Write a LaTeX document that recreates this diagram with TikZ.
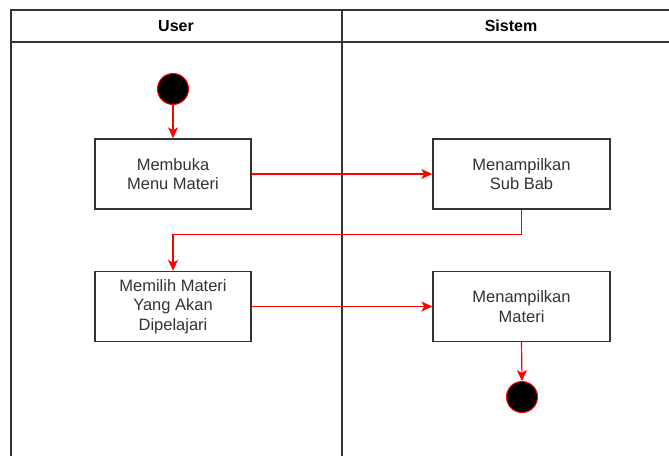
\documentclass[tikz,border=0pt]{standalone}
\usepackage{fontspec}
\setmainfont{Liberation Sans}
\usetikzlibrary{arrows.meta}
\definecolor{frame}{HTML}{333333}
\definecolor{txt}{HTML}{333333}
\tikzset{
  lane/.style={draw=frame, line width=1.3pt},
  actbox/.style={draw=frame, line width=1.4pt, fill=white, minimum width=156pt, minimum height=70pt,
    align=center, text=txt, font=\fontsize{16.5}{19.5}\selectfont, inner sep=0pt},
  widebox/.style={actbox, minimum width=177pt},
  dot/.style={circle, fill=black, draw=red, line width=1pt, minimum size=31pt, inner sep=0pt},
  flow/.style={draw=red, line width=1.2pt, -{Stealth[length=11pt, width=10pt, inset=3pt]}},
  head/.style={font=\bfseries\fontsize{16}{19}\selectfont, text=black}
}
\begin{document}
\begin{tikzpicture}[x=1pt, y=-1pt]
\useasboundingbox (0,0) rectangle (669,455);
\fill[white] (0,0) rectangle (669,455);
\begin{scope}
\clip (0,0) rectangle (669,455);
\draw[lane] (11,10) rectangle (680,470);
\draw[lane] (11,42) -- (680,42);
\draw[lane] (342,10) -- (342,470);
\end{scope}
\node[head] (hu) at (176,26) {User};
\node[head] (hs) at (511,26) {Sistem};

\node[dot] (start) at (173,89) {};
\node[actbox] (b1) at (173,174) {Membuka\\Menu Materi};
\node[widebox] (b2) at (521.5,174) {Menampilkan\\Sub Bab};
\node[actbox] (b3) at (173,306.5) {Memilih Materi\\Yang Akan\\Dipelajari};
\node[widebox] (b4) at (521.5,306.5) {Menampilkan\\Materi};
\node[dot] (end) at (522,397) {};

\draw[flow] (start) -- (b1);
\draw[flow] (b1) -- (b2);
\draw[flow] (b2.south) -- ++(0,25) -| (b3.north);
\draw[flow] (b3) -- (b4);
\draw[flow] (b4.south) -- (end.north);
\end{tikzpicture}
\end{document}
